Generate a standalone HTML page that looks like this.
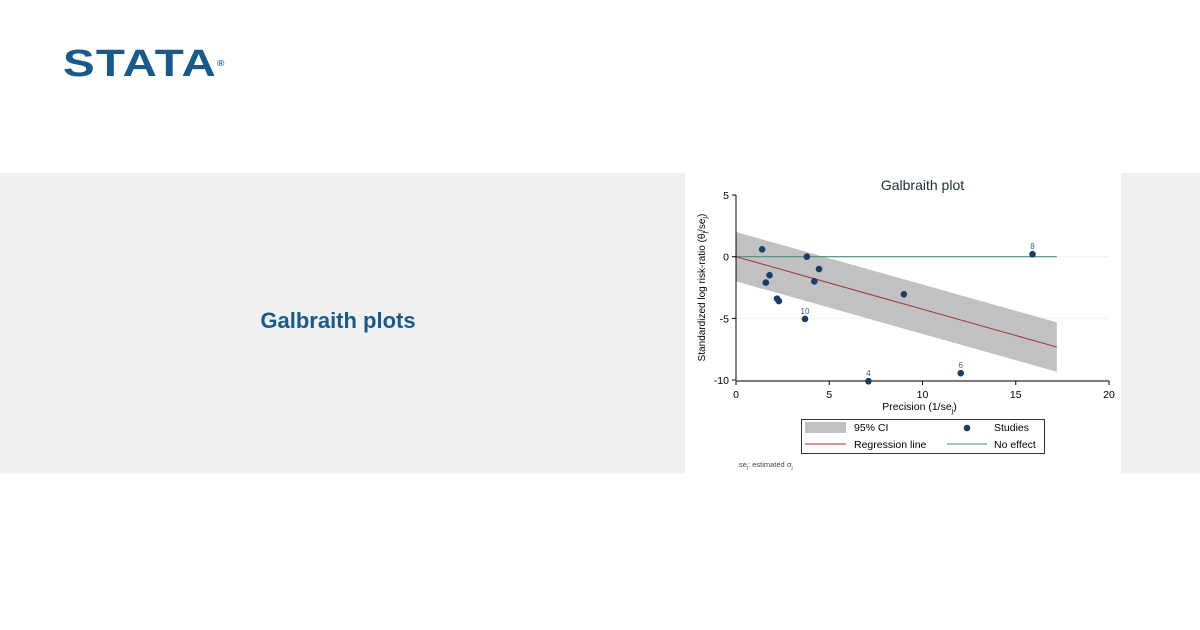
<!DOCTYPE html>
<html><head><meta charset="utf-8"><style>
body{margin:0;width:1200px;height:630px;background:#fff;position:relative;overflow:hidden;font-family:"Liberation Sans",sans-serif}
.band{position:absolute;top:173px;height:300px;background:#f0f0f0}
</style></head><body>
<div style="position:absolute;left:63px;top:42px;font:900 38px/44px 'Liberation Sans',sans-serif;color:#1a5a8a;letter-spacing:1px;transform:scaleX(1.25);transform-origin:left">STATA<span style="font-size:8px;vertical-align:top">®</span></div>
<div class="band" style="left:0;width:685px"></div>
<div class="band" style="left:1121px;width:79px"></div>
<div style="position:absolute;left:0;width:676px;top:308px;text-align:center;font:bold 22px 'Liberation Sans',sans-serif;color:#1a5a8a">Galbraith plots</div>
<svg style="position:absolute;left:685px;top:173px" width="436" height="300" font-family="Liberation Sans, sans-serif">
<g id="plot"></g>
</svg>
<script>
const xTicks=[0,5,10,15,20];
const yTicks=[5,0,-5,-10];
const precision=[1.4,1.6,1.8,2.2,2.3,3.7,3.8,4.2,4.45,7.1,9.0,12.05,15.9];
const stdEffect=[0.6,-2.1,-1.5,-3.4,-3.6,-5.05,0,-2,-1,-10.1,-3.05,-9.45,0.2];
const pointLabels=["","","","","","10","","","","4","","6","8"];
const regSlope=[-0.426];
const ciHalf=[2];
const xMax=[17.2];
const OX=685,OY=173;
function sx(v){return 736+v*18.65-OX;}
function sy(v){return 256.7-v*12.33-OY;}
const g=document.getElementById('plot');
const NS='http://www.w3.org/2000/svg';
function mk(t,a,txt){const e=document.createElementNS(NS,t);for(const k in a)e.setAttribute(k,a[k]);if(txt!==undefined)e.textContent=txt;g.appendChild(e);return e;}
let e;
e=mk('text',{x:sx(10),y:17,'text-anchor':'middle','font-size':14,fill:'#1e2d3d'},'Galbraith plot');


yTicks.forEach(t=>{if(t!==5&&t!==0){e=mk('line',{x1:sx(0),x2:sx(20),y1:sy(t),y2:sy(t),stroke:'#eaf2f3','stroke-width':1});

}
if(t===0){e=mk('line',{x1:sx(0),x2:sx(20),y1:sy(t),y2:sy(t),stroke:'#eaf2f3','stroke-width':1});}
e=mk('line',{x1:sx(0)-4,x2:sx(0),y1:sy(t),y2:sy(t),stroke:'#000'});
e=mk('text',{x:sx(0)-7,y:sy(t)+4,'text-anchor':'end','font-size':10.5},String(t));

});
const xm=xMax[0],s=regSlope[0],h=ciHalf[0];
e=mk('polygon',{points:`${sx(0)},${sy(h)} ${sx(xm)},${sy(s*xm+h)} ${sx(xm)},${sy(s*xm-h)} ${sx(0)},${sy(-h)}`,fill:'#c1c1c1'});


e=mk('line',{x1:sx(0),x2:sx(xm),y1:sy(0),y2:sy(0),stroke:'#4f8a80','stroke-width':1.2});


e=mk('line',{x1:sx(0),x2:sx(xm),y1:sy(0),y2:sy(s*xm),stroke:'#a0303a','stroke-width':1});


e=mk('line',{x1:sx(0),x2:sx(0),y1:sy(5),y2:sy(-10),stroke:'#000'});
e=mk('line',{x1:sx(0),x2:sx(20),y1:sy(-10)+1,y2:sy(-10)+1,stroke:'#000'});
xTicks.forEach(t=>{mk('line',{x1:sx(t),x2:sx(t),y1:sy(-10)+1,y2:sy(-10)+5,stroke:'#000'});
e=mk('text',{x:sx(t),y:sy(-10)+18,'text-anchor':'middle','font-size':10.5},String(t));

});
precision.forEach((p,i)=>{e=mk('circle',{cx:sx(p),cy:sy(stdEffect[i]),r:3.3,fill:'#1a3d63'});


if(pointLabels[i]){e=mk('text',{x:sx(p),y:sy(stdEffect[i])-5,'text-anchor':'middle','font-size':8,fill:'#40607e'},pointLabels[i]);

}});
e=mk('text',{x:sx(10)-3,y:237,'text-anchor':'middle','font-size':10.5},'');
e.innerHTML='Precision (1/se<tspan font-size="7" dy="3">j</tspan><tspan dy="-3">)</tspan>';


e=mk('text',{x:0,y:0,'text-anchor':'middle','font-size':10,transform:`translate(20,${sy(-2.5)}) rotate(-90)`},'');
e.innerHTML='Standardized log risk-ratio (θ<tspan font-size="7" dy="2">j</tspan><tspan dy="-2">/se</tspan><tspan font-size="7" dy="2">j</tspan><tspan dy="-2">)</tspan>';


e=mk('rect',{x:116.5,y:246.5,width:243,height:34,fill:'#fff',stroke:'#333'});


mk('rect',{x:120,y:249,width:41,height:11,fill:'#c1c1c1'});
mk('text',{x:169,y:258,'font-size':10.5},'95% CI');
mk('circle',{cx:282,cy:255,r:3.3,fill:'#1a3d63'});
mk('text',{x:309,y:258,'font-size':10.5},'Studies');
mk('line',{x1:120,x2:161,y1:271,y2:271,stroke:'#a0303a'});
mk('text',{x:169,y:275,'font-size':10.5},'Regression line');
mk('line',{x1:262,x2:302,y1:271,y2:271,stroke:'#4f8a80'});
mk('text',{x:309,y:275,'font-size':10.5},'No effect');
e=mk('text',{x:54,y:294,'font-size':7.5,fill:'#444'},'');
e.innerHTML='se<tspan font-size="5" dy="2">j</tspan><tspan dy="-2">: estimated σ</tspan><tspan font-size="5" dy="2">j</tspan>';


</script>
</body></html>
